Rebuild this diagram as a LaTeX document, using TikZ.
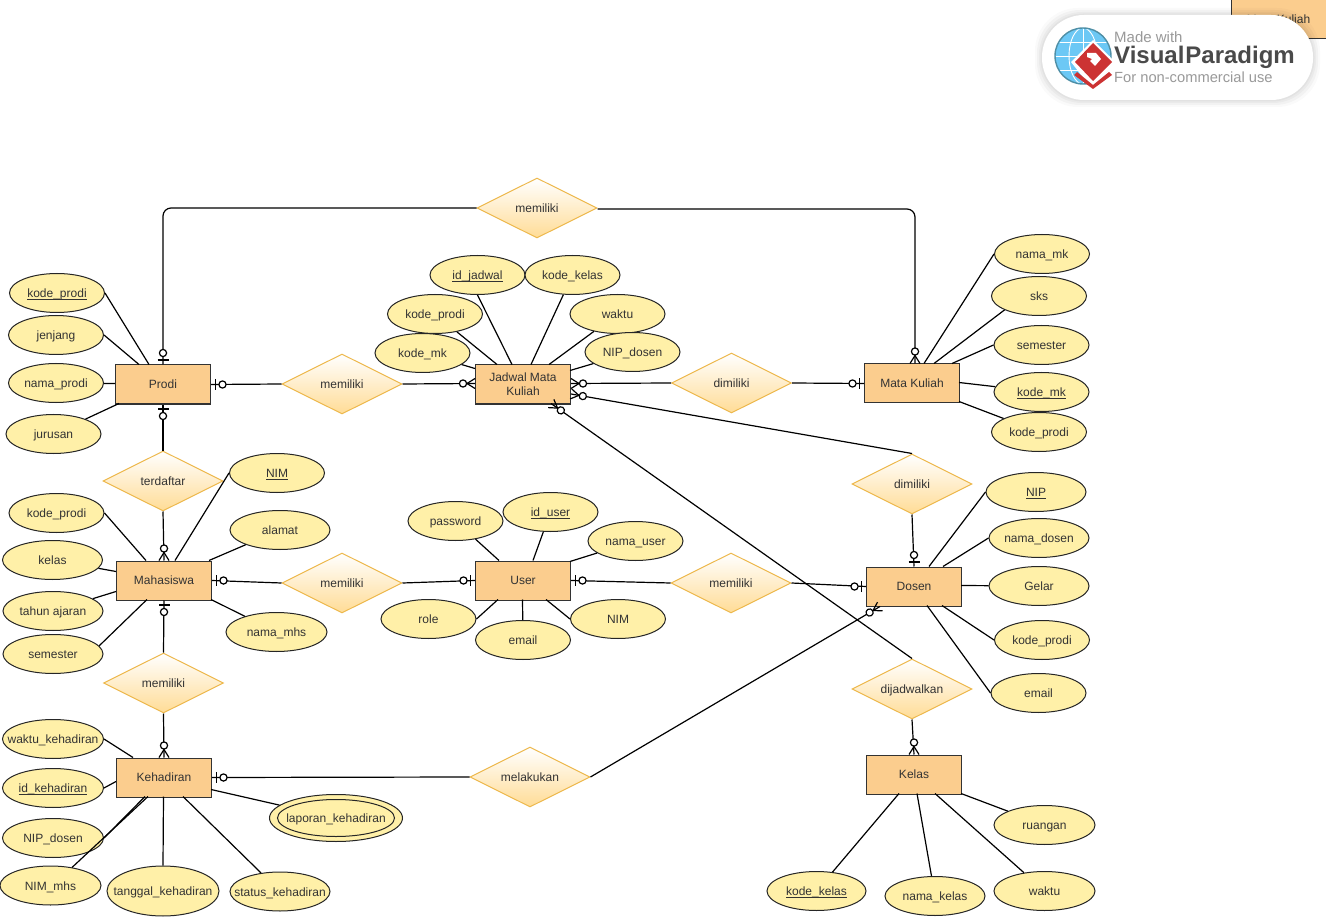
\documentclass[tikz,border=0pt]{standalone}
\usepackage{fontspec}
\setmainfont{Liberation Sans}
\usetikzlibrary{shapes.geometric,calc}
\definecolor{entfill}{HTML}{FBCD8E}
\definecolor{attfill}{HTML}{FFF0A8}
\definecolor{relline}{HTML}{EDB84C}
\definecolor{relbot}{HTML}{FFDC96}
\definecolor{inktext}{HTML}{333333}
\definecolor{wmgrey}{HTML}{999999}
\definecolor{wmdark}{HTML}{4A4A4A}
\definecolor{wmred}{HTML}{CC3333}
\definecolor{wmblue}{HTML}{6CC8F5}
\definecolor{wmteal}{HTML}{4F8FA6}
\tikzset{
  every node/.style={font=\fontsize{12}{14}\selectfont,text=inktext,inner sep=0pt,align=center},
  entity/.style={rectangle,draw=black!80,line width=1pt,fill=entfill,minimum width=95,minimum height=39},
  attrib/.style={ellipse,draw=black!85,line width=1pt,fill=attfill,minimum width=95,minimum height=39,text height=10,text depth=1},
  attribw/.style={attrib,minimum width=101},
  relship/.style={diamond,draw=relline,line width=1pt,top color=white,bottom color=relbot,minimum width=120,minimum height=60,shape aspect=2,text height=10,text depth=1},
  link/.style={draw=black,line width=1.2pt},
  zeroone/.pic={
    \draw[link] (4.5,-5.5) -- (4.5,5.5);
    \draw[link,fill=white] (11.5,0) circle (3.6);
  },
  zeromany/.pic={
    \draw[link] (0,-5) -- (8,0) -- (0,5);
    \draw[link,fill=white] (12,0) circle (3.6);
  }
}
\newcommand{\attlink}[4]{\draw[link] (#1) -- ($(#2.north west)+(#3,#4)$);}
\newcommand{\tx}[1]{\makebox[0pt]{#1}}
\newcommand{\ulx}[1]{\makebox[0pt]{\underline{\smash{#1}}}}
\begin{document}
\begin{tikzpicture}[x=1pt,y=-1pt]
\useasboundingbox (0,0) rectangle (1326,917);
\fill[white] (0,0) rectangle (1326,917);

% entities
\node[entity] (prodi) at (163,384.5) {Prodi};
\node[entity] (jadwal) at (523,384.5) {Jadwal Mata\\Kuliah};
\node[entity] (mk) at (912,383.5) {Mata Kuliah};
\node[entity] (mhs) at (164,580.5) {Mahasiswa};
\node[entity] (user) at (523,580.5) {User};
\node[entity] (dosen) at (914,586.5) {Dosen};
\node[entity] (hadir) at (164,777.5) {Kehadiran};
\node[entity] (kelas) at (914,774.5) {Kelas};
\node[entity] (mkb) at (1278.5,19.5) {Mata Kuliah};

% relationships
\node[relship] (r1) at (537,208) {memiliki};
\node[relship] (r2) at (342,384) {memiliki};
\node[relship] (r3) at (731.5,383) {dimiliki};
\node[relship] (r4) at (912,484) {dimiliki};
\node[relship] (r5) at (163,481) {terdaftar};
\node[relship] (r6) at (342,583) {memiliki};
\node[relship] (r7) at (731,583) {memiliki};
\node[relship] (r8) at (163.5,683) {memiliki};
\node[relship] (r9) at (530,777) {melakukan};
\node[relship] (r10) at (912,689) {dijadwalkan};

% attributes
\node[attrib] (a1) at (57,293) {\ulx{kode\_prodi}};
\node[attrib] (a2) at (56,335) {\tx{jenjang}};
\node[attrib] (a3) at (56,383) {\tx{nama\_prodi}};
\node[attrib] (a4) at (53.5,434) {\tx{jurusan}};
\node[attrib] (b1) at (477.5,275) {\ulx{id\_jadwal}};
\node[attrib] (b2) at (572.5,275) {\tx{kode\_kelas}};
\node[attrib] (b3) at (435,314) {\tx{kode\_prodi}};
\node[attrib] (b4) at (617.5,314) {\tx{waktu}};
\node[attrib] (b5) at (422.5,353) {\tx{kode\_mk}};
\node[attrib] (b6) at (632.5,352) {\tx{NIP\_dosen}};
\node[attrib] (c1) at (1042,254) {\tx{nama\_mk}};
\node[attrib] (c2) at (1039,296) {\tx{sks}};
\node[attrib] (c3) at (1041.5,345) {\tx{semester}};
\node[attrib] (c4) at (1041.5,392) {\ulx{kode\_mk}};
\node[attrib] (c5) at (1039,432) {\tx{kode\_prodi}};
\node[attrib] (d1) at (277,473) {\ulx{NIM}};
\node[attrib,minimum width=100] (d2) at (280,530) {\tx{alamat}};
\node[attrib] (d3) at (56.5,513) {\tx{kode\_prodi}};
\node[attrib,minimum width=100] (d4) at (52.5,560) {\tx{kelas}};
\node[attrib,minimum width=100] (d5) at (53,611) {\tx{tahun ajaran}};
\node[attrib,minimum width=100] (d6) at (53,654) {\tx{semester}};
\node[attrib,minimum width=101] (d7) at (276.5,632) {\tx{nama\_mhs}};
\node[attrib] (e1) at (455.5,521) {\tx{password}};
\node[attrib] (e2) at (550.5,512) {\ulx{id\_user}};
\node[attrib] (e3) at (635.5,541) {\tx{nama\_user}};
\node[attrib] (e4) at (428.5,619) {\tx{role}};
\node[attrib] (e5) at (523,640) {\tx{email}};
\node[attrib] (e6) at (618,619) {\tx{NIM}};
\node[attrib,minimum width=100] (f1) at (1036,492) {\ulx{NIP}};
\node[attrib,minimum width=100] (f2) at (1039,538) {\tx{nama\_dosen}};
\node[attrib,minimum width=100] (f3) at (1039,586) {\tx{Gelar}};
\node[attrib] (f4) at (1042,640) {\tx{kode\_prodi}};
\node[attrib] (f5) at (1038.5,693) {\tx{email}};
\node[attribw] (g1) at (53,739) {\tx{waktu\_kehadiran}};
\node[attribw] (g2) at (53,788) {\ulx{id\_kehadiran}};
\node[attribw] (g3) at (53,838) {\tx{NIP\_dosen}};
\node[attribw] (g4) at (50.5,885.5) {\tx{NIM\_mhs}};
\node[attrib,minimum width=112,minimum height=50] (g5) at (163,891) {\tx{tanggal\_kehadiran}};
\node[attrib,minimum width=100] (g6) at (280,891.5) {\tx{status\_kehadiran}};
\node[attrib,minimum width=133,minimum height=47] (g7) at (336,818) {};
\node[attrib,minimum width=117,minimum height=37] (g7in) at (336,818) {\tx{laporan\_kehadiran}};
\node[attrib,minimum width=99] (h1) at (816.5,891) {\ulx{kode\_kelas}};
\node[attrib,minimum width=100] (h2) at (935,896) {\tx{nama\_kelas}};
\node[attribw] (h3) at (1044.5,891) {\tx{waktu}};
\node[attribw] (h4) at (1044.5,825) {\tx{ruangan}};

% attribute links
\attlink{a1.east}{prodi}{34}{0}
\attlink{a2.east}{prodi}{24}{0}
\attlink{a3}{prodi}{0}{19}
\attlink{a4}{prodi}{4}{39}
\attlink{b1.south}{jadwal}{37}{0}
\attlink{b2}{jadwal}{56}{0}
\attlink{b3}{jadwal}{22}{0}
\attlink{b4}{jadwal}{74}{0}
\attlink{b5}{jadwal}{0}{4}
\attlink{b6}{jadwal}{95}{6}
\attlink{c1.west}{mk}{60}{0}
\attlink{c2.202}{mk}{70}{0}
\attlink{c3.west}{mk}{88}{0}
\attlink{c4}{mk}{95}{19}
\attlink{c5}{mk}{95}{38}
\attlink{d1.west}{mhs}{59}{0}
\attlink{d2}{mhs}{93}{0}
\attlink{d3.east}{mhs}{30}{0}
\attlink{d4}{mhs}{0}{11}
\attlink{d5}{mhs}{0}{31}
\attlink{d6.10}{mhs}{31}{39}
\attlink{d7}{mhs}{95}{39}
\attlink{e1}{user}{24}{0}
\attlink{e2}{user}{58}{0}
\attlink{e3}{user}{95}{1}
\attlink{e4.east}{user}{23}{39}
\attlink{e5}{user}{47.5}{39}
\attlink{e6.west}{user}{71}{39}
\attlink{f1.west}{dosen}{63}{0}
\attlink{f2.west}{dosen}{77}{0}
\attlink{f3}{dosen}{95}{19}
\attlink{f4.west}{dosen}{76}{39}
\attlink{f5.west}{dosen}{61}{39}
\attlink{g1.east}{hadir}{17}{0}
\attlink{g2.east}{hadir}{0}{24}
\attlink{g3.east}{hadir}{29}{39}
\attlink{g4.40}{hadir}{32}{39}
\attlink{g5.north}{hadir}{47.5}{39}
\attlink{g6}{hadir}{67}{39}
\attlink{g7}{hadir}{95}{32}
\attlink{h1}{kelas}{33}{39}
\attlink{h2}{kelas}{51}{39}
\attlink{h3}{kelas}{69}{39}
\attlink{h4}{kelas}{95}{39}

% relationship links
\coordinate (mktop) at ($(mk.north)+(3,0)$);
\coordinate (jl) at ($(jadwal.west)+(0,-1)$);
\coordinate (jr1) at ($(jadwal.east)+(0,-1)$);
\coordinate (jr2) at ($(jadwal.east)+(0,9.5)$);
\coordinate (jb) at ($(jadwal.south)+(28,-1)$);
\coordinate (dl) at ($(dosen.south west)+(14,0)$);
\draw[link,rounded corners=8] (r1.west) -| (prodi.north);
\draw[link,rounded corners=8] (r1.east) ++(0,1) -| (mktop);
\draw[link] (prodi.east) -- (r2.west);
\draw[link] (r2.east) -- (jl);
\draw[link] (jr1) -- (r3.west);
\draw[link] (r3.east) -- (mk.west);
\draw[link] (prodi.south) -- (r5.north);
\draw[link] (r5.south) -- (mhs.north);
\draw[link] (mhs.east) -- (r6.west);
\draw[link] (r6.east) -- (user.west);
\draw[link] (user.east) -- (r7.west);
\draw[link] (r7.east) -- (dosen.west);
\draw[link] (mhs.south) -- (r8.north);
\draw[link] (r8.south) -- (hadir.north);
\draw[link] (hadir.east) -- (r9.west);
\draw[link] (r9.east) -- (dl);
\draw[link] (r4.north) -- (jr2);
\draw[link] (r4.south) -- (dosen.north);
\draw[link] (r10.north) -- (jb);
\draw[link] (r10.south) -- (kelas.north);

% connector ends
\pic[rotate=90] at (prodi.north) {zeroone};
\pic[rotate=270] at (prodi.south) {zeroone};
\pic at (prodi.east) {zeroone};
\pic[rotate=90] at (mktop) {zeromany};
\pic[rotate=180] at (jl) {zeromany};
\pic at (jr1) {zeromany};
\pic[rotate=-10] at (jr2) {zeromany};
\pic[rotate=-35] at (jb) {zeromany};
\pic[rotate=180] at (mk.west) {zeroone};
\pic[rotate=90] at (mhs.north) {zeromany};
\pic[rotate=270] at (mhs.south) {zeroone};
\pic at (mhs.east) {zeroone};
\pic[rotate=180] at (user.west) {zeroone};
\pic at (user.east) {zeroone};
\pic[rotate=180] at (dosen.west) {zeroone};
\pic[rotate=90] at (dosen.north) {zeroone};
\pic[rotate=210] at (dl) {zeromany};
\pic[rotate=90] at (hadir.north) {zeromany};
\pic at (hadir.east) {zeroone};
\pic[rotate=90] at (kelas.north) {zeromany};

% watermark
\foreach \g/\o in {7/0.02,5/0.03,3/0.03,1.5/0.03}{
  \fill[black,opacity=\o,rounded corners=43] (1042-\g,15-\g) rectangle (1313+\g,100+\g);
}
\fill[white,rounded corners=42] (1042,15) rectangle (1313,100);
\draw[wmteal,line width=1.4pt,fill=wmblue] (1083,56) circle (28);
\begin{scope}
  \clip (1083,56) circle (27);
  \draw[white,line width=0.9pt] (1083,28) -- (1083,84);
  \draw[white,line width=0.9pt] (1083,56) ellipse (14 and 28);
  \draw[white,line width=0.9pt] (1055,56) -- (1111,56);
  \draw[white,line width=0.9pt] (1055,42) -- (1111,42);
  \draw[white,line width=0.9pt] (1055,70) -- (1111,70);
\end{scope}
\fill[white] (1093,40) -- (1115,62) -- (1093,90) -- (1071,62) -- cycle;
\fill[wmred] (1077,72) -- (1093,85) -- (1109,72) -- (1112,75) -- (1093,89) -- (1074,75) -- cycle;
\fill[wmred] (1093,43) -- (1112,62) -- (1093,81) -- (1075,62) -- cycle;
\fill[white] (1087,53) -- (1096,53) -- (1101,59) -- (1095,66) -- (1090,61) -- (1092,59) -- (1087,57) -- cycle;
\node[anchor=west,text=wmgrey,font=\fontsize{15}{17}\selectfont] (wm1) at (1114,37) {Made with};
\node[anchor=west,text=wmdark,font=\fontsize{24}{26}\bfseries\selectfont] (wm2) at (1114,57) {Visual\kern1ptParadigm};
\node[anchor=west,text=wmgrey,font=\fontsize{14.7}{16}\selectfont] (wm3) at (1114,77.5) {For non-commercial use};
\end{tikzpicture}
\end{document}
